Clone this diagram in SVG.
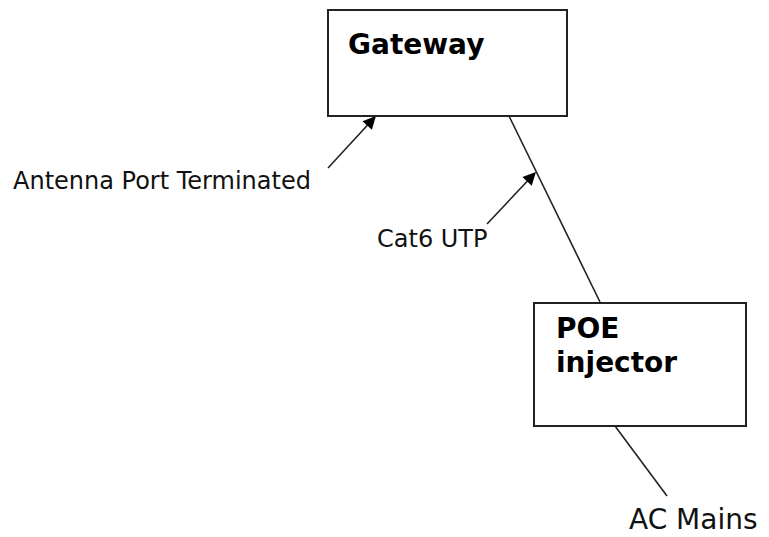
<svg xmlns="http://www.w3.org/2000/svg" width="769" height="537" viewBox="0 0 769 537">
<defs>
<marker id="ah" viewBox="0 0 10 10" refX="9" refY="5" markerWidth="9" markerHeight="8" markerUnits="strokeWidth" orient="auto">
<path d="M0,0 L10,5 L0,10 z" fill="#000"/>
</marker>
<style>
.box{fill:#fff;stroke:#222;stroke-width:2}
.ln{stroke:#222;stroke-width:1.6;fill:none}
.t{font-family:"DejaVu Sans",Verdana,sans-serif;font-size:24px;fill:#111}
.b{font-family:"DejaVu Sans",Verdana,sans-serif;font-size:28px;font-weight:bold;fill:#000}
</style>
</defs>
<rect width="769" height="537" fill="#fff"/>
<g id="connectors">
<line class="ln" x1="509" y1="116" x2="600" y2="302"/>
<line class="ln" x1="615" y1="426" x2="667" y2="496"/>
<line class="ln" x1="328" y1="168" x2="375" y2="117" marker-end="url(#ah)"/>
<line class="ln" x1="487" y1="224" x2="535" y2="173" marker-end="url(#ah)"/>
</g>
<g id="gateway">
<rect class="box" x="328" y="10" width="239" height="106"/>
<text class="b" x="348" y="54">Gateway</text>
</g>
<g id="poe">
<rect class="box" x="534" y="303" width="212" height="123"/>
<text class="b" x="556" y="338">POE</text>
<text class="b" x="556" y="372">injector</text>
</g>
<g id="antenna-label">
<text class="t" x="13" y="189">Antenna Port Terminated</text>
</g>
<g id="cat6-label">
<text class="t" x="377" y="247">Cat6 UTP</text>
</g>
<g id="ac-mains">
<text class="t" x="629" y="529" style="font-size:28px">AC Mains</text>
</g>
</svg>
